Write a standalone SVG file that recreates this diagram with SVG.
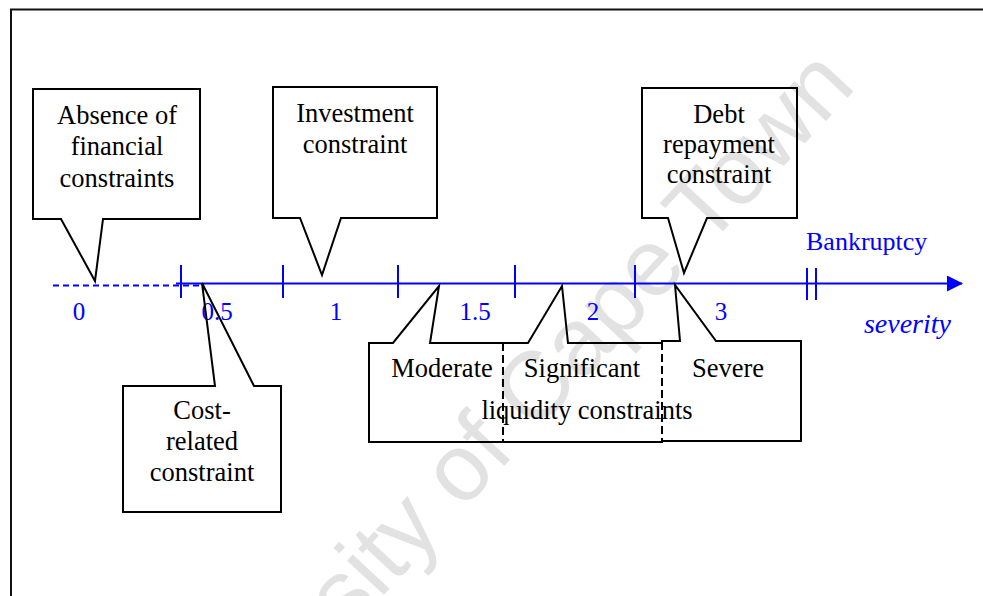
<svg xmlns="http://www.w3.org/2000/svg" width="983" height="596" viewBox="0 0 983 596">
  <style>
    .frame { fill: none; stroke: #111; stroke-width: 2; }
    .callout { fill: none; stroke: #000; stroke-width: 2; stroke-linejoin: miter; }
    .divider { fill: none; stroke: #000; stroke-width: 2; stroke-dasharray: 8 4; }
    .axis { fill: none; stroke: #0000ff; stroke-width: 2; }
    .axis-dash { fill: none; stroke: #0000ff; stroke-width: 2; stroke-dasharray: 6 4; }
    .label { font-family: "Liberation Serif", "Times New Roman", serif; font-size: 26.5px; fill: #000; text-anchor: middle; }
    .scale { font-family: "Liberation Serif", "Times New Roman", serif; font-size: 25px; fill: #0000ff; text-anchor: middle; }
    .watermark { font-family: "Liberation Sans", Arial, sans-serif; font-size: 95px; fill: #e2e2e2; }
  </style>
  <defs>
    <marker id="arrow" viewBox="0 0 16 16" refX="15" refY="8" markerWidth="16" markerHeight="16" markerUnits="userSpaceOnUse" orient="auto">
      <path d="M0,0 L16,8 L0,16 Z" fill="#0000ff"/>
    </marker>
  </defs>

  <rect class="frame" x="11" y="9.5" width="1000" height="620"/>

  <!-- background watermark -->
  <text class="watermark" transform="translate(160,835) rotate(-47)">University of Cape Town</text>

  <!-- severity axis -->
  <g id="axis">
    <line class="axis-dash" x1="53" y1="285.5" x2="200" y2="285.5"/>
    <line class="axis" x1="176" y1="283.5" x2="962" y2="283.5" marker-end="url(#arrow)"/>
    <g class="axis">
      <line x1="181" y1="265" x2="181" y2="298"/>
      <line x1="283" y1="265" x2="283" y2="298"/>
      <line x1="398" y1="265" x2="398" y2="298"/>
      <line x1="515" y1="265" x2="515" y2="298"/>
      <line x1="635" y1="265" x2="635" y2="298"/>
      <line x1="807" y1="268" x2="807" y2="300"/>
      <line x1="816" y1="268" x2="816" y2="300"/>
    </g>
    <text class="scale" x="79" y="320">0</text>
    <text class="scale" x="217" y="320">0.5</text>
    <text class="scale" x="336" y="320">1</text>
    <text class="scale" x="475" y="320">1.5</text>
    <text class="scale" x="593" y="320">2</text>
    <text class="scale" x="721" y="320">3</text>
    <text class="scale" x="806" y="250" style="text-anchor:start;font-size:26px">Bankruptcy</text>
    <text class="scale" x="951" y="333" style="text-anchor:end;font-style:italic;font-size:28px">severity</text>
  </g>

  <g id="absence">
    <path class="callout" d="M33,89 H200 V219 H103 L95,281 L61,219 H33 Z"/>
    <text class="label" x="117" y="124">Absence of</text>
    <text class="label" x="117" y="155">financial</text>
    <text class="label" x="117" y="187">constraints</text>
  </g>

  <g id="investment">
    <path class="callout" d="M273,87 H437 V218 H341 L322,275 L300,218 H273 Z"/>
    <text class="label" x="355" y="122">Investment</text>
    <text class="label" x="355" y="153">constraint</text>
  </g>

  <g id="debt">
    <path class="callout" d="M642,88 H797 V218 H707 L684,273 L668,218 H642 Z"/>
    <text class="label" x="719" y="123">Debt</text>
    <text class="label" x="719" y="153">repayment</text>
    <text class="label" x="719" y="183">constraint</text>
  </g>

  <g id="cost">
    <path class="callout" d="M123,386 H215 L202,283 L254,386 H281 V512 H123 Z"/>
    <text class="label" x="202" y="419">Cost-</text>
    <text class="label" x="202" y="450">related</text>
    <text class="label" x="202" y="481">constraint</text>
  </g>

  <g id="liquidity">
    <path class="callout" d="M369,343 H393 L439,286 L430,343 H528 L562,286 L568,343 H662 V341 H680 L675,285 L716,341 H801 V441 H662 V442 H369 Z"/>
    <line class="divider" x1="503" y1="343" x2="503" y2="442"/>
    <line class="divider" x1="662" y1="342" x2="662" y2="442"/>
    <text class="label" x="442" y="377">Moderate</text>
    <text class="label" x="582" y="377">Significant</text>
    <text class="label" x="728" y="377">Severe</text>
    <text class="label" x="587" y="419">liquidity constraints</text>
  </g>
</svg>
